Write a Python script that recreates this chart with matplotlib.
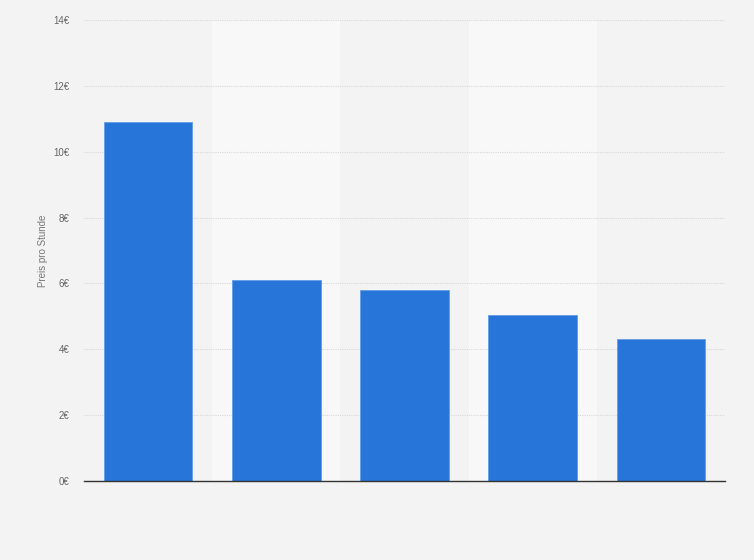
import matplotlib

matplotlib.use("Agg")
import matplotlib.pyplot as plt
from matplotlib.ticker import FuncFormatter

plt.rcParams["font.family"] = ["Liberation Sans", "DejaVu Sans"]

# five unlabeled categories in the source chart
categories = [1, 2, 3, 4, 5]
prices = [10.9, 6.1, 5.8, 5.05, 4.3]
y_ticks = [0, 2, 4, 6, 8, 10, 12, 14]
y_label = "Preis pro Stunde"

W, H = 754, 560
fig = plt.figure(figsize=(W / 100, H / 100), dpi=100, facecolor="#f3f3f3")
ax = fig.add_axes([84 / W, (H - 481) / H, (725 - 84) / W, (481 - 20) / H])
ax.set_facecolor("#f3f3f3")

# alternating column bands
for i, c in enumerate(categories):
    if i % 2 == 1:
        ax.axvspan(c - 0.5, c + 0.5, ymin=0, ymax=1, color="#f8f8f8", zorder=0, lw=0)

ax.bar(categories, prices, width=0.69, color="#2775d9", edgecolor="#6aa0e8",
       linewidth=0.7, zorder=3)

ax.set_xlim(0.5, len(categories) + 0.5)
ax.set_ylim(0, 14)
ax.set_yticks(y_ticks)
ax.yaxis.set_major_formatter(FuncFormatter(lambda v, p: f"{v:.0f}€"))
ax.set_xticks([])
ax.grid(axis="y", color="#d9d9d9", linestyle=(0, (1, 1)), linewidth=0.8, zorder=1)
ax.tick_params(axis="y", length=0, pad=10.5, labelsize=7, labelcolor="#666666")
for s in ["top", "right", "left"]:
    ax.spines[s].set_visible(False)
ax.spines["bottom"].set_color("#333333")
ax.spines["bottom"].set_linewidth(1.0)
ax.spines["bottom"].set_zorder(4)
ax.set_ylabel(y_label, fontsize=7, color="#777777", labelpad=4)

fig.savefig("out.png", dpi=100, facecolor=fig.get_facecolor())
